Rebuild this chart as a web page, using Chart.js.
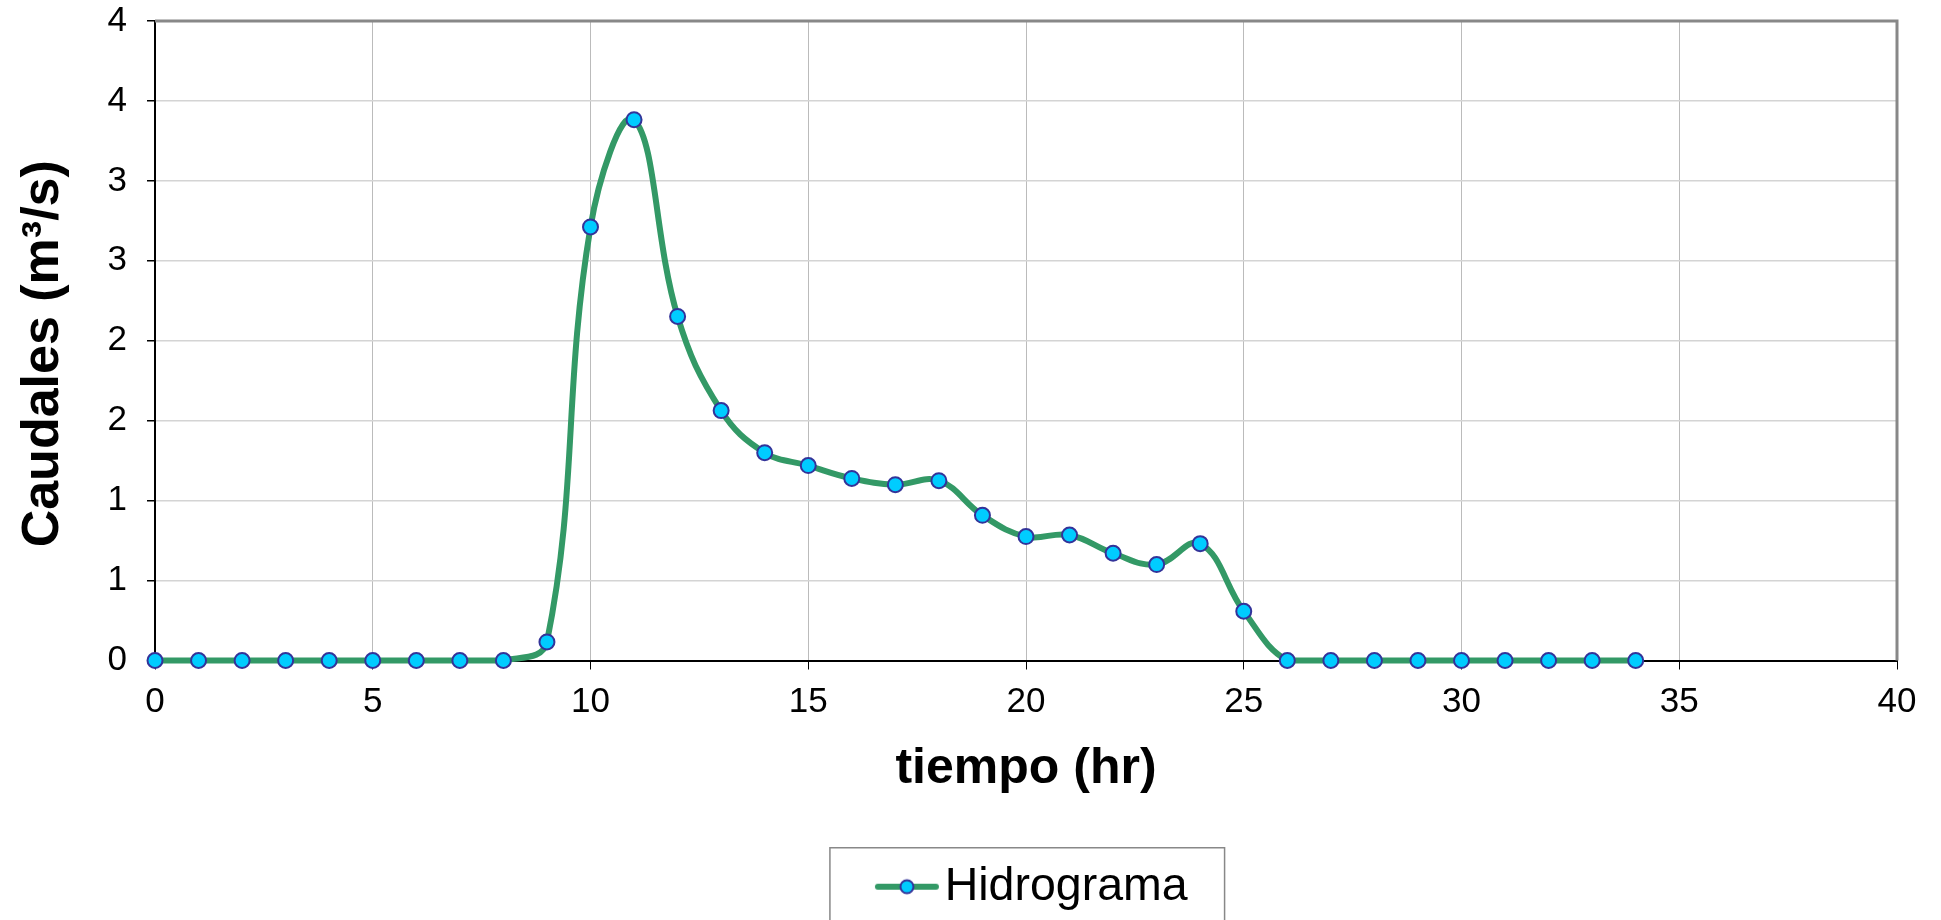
<!DOCTYPE html>
<html>
<head>
<meta charset="utf-8">
<script src="https://cdn.jsdelivr.net/npm/chart.js@4.4.1/dist/chart.umd.min.js"></script>
<style>
  html, body { margin: 0; padding: 0; background: #fff; }
  #wrap { width: 1941px; height: 920px; }
</style>
</head>
<body>
<div id="wrap"><canvas id="chart"></canvas></div>
<script>
// hidrograma: tiempo (hr) vs caudal (m3/s)
const hours = [0, 1, 2, 3, 4, 5, 6, 7, 8, 9, 10, 11, 12, 13, 14, 15, 16, 17,
    18, 19, 20, 21, 22, 23, 24, 25, 26, 27, 28, 29, 30, 31, 32, 33, 34];
const flows = [0, 0, 0, 0, 0, 0, 0, 0, 0, 0.116, 2.712, 3.383, 2.152, 1.563,
    1.30, 1.219, 1.139, 1.10, 1.125, 0.908, 0.775, 0.785, 0.671, 0.60, 0.731,
    0.308, 0, 0, 0, 0, 0, 0, 0, 0, 0];
const xTickLabels = ['0', '5', '10', '15', '20', '25', '30', '35', '40'];
const yTickLabels = ['0', '1', '1', '2', '2', '3', '3', '4', '4'];

const FONT = "'Liberation Sans', Arial, sans-serif";
const LEGEND_SIZE = 46.5;
const LEGEND_BOX = 57;     // pointStyleWidth, pushes the item so it sits like the original
const MARK_W = 98, MARK_CX = 63;

// legend symbol: line with marker, drawn off-centre inside the image
const legendMark = document.createElement('canvas');
legendMark.width = MARK_W;
legendMark.height = 20;
const g = legendMark.getContext('2d');
g.strokeStyle = '#339966';
g.lineWidth = 6;
g.lineCap = 'round';
g.beginPath(); g.moveTo(MARK_CX - 29, 10); g.lineTo(MARK_CX + 29, 10); g.stroke();
g.beginPath(); g.arc(MARK_CX, 10, 6.5, 0, 2 * Math.PI);
g.fillStyle = '#00ccff'; g.fill();
g.lineWidth = 2; g.strokeStyle = '#333399'; g.stroke();

const framePlugin = {
    id: 'frame',
    beforeDatasetsDraw(chart) {
        const {ctx, chartArea: a} = chart;
        ctx.save();
        ctx.strokeStyle = '#888888';
        ctx.lineWidth = 3;
        ctx.beginPath();
        ctx.moveTo(a.left, a.top);
        ctx.lineTo(a.right, a.top);
        ctx.lineTo(a.right, a.bottom);
        ctx.stroke();
        ctx.restore();
    },
    afterDraw(chart) {
        const hb = chart.legend.legendHitBoxes[0];
        if (!hb) return;
        const ctx = chart.ctx;
        const cy = hb.top + hb.height / 2;
        const markLeft = hb.left + LEGEND_BOX / 2 - MARK_W / 2 + MARK_CX - 32;
        const left = markLeft - 45;
        const right = hb.left + hb.width + 37;
        ctx.save();
        ctx.strokeStyle = '#888888';
        ctx.lineWidth = 1.5;
        ctx.strokeRect(left, cy - 39, right - left, 100);
        ctx.restore();
    }
};

const ctx = document.querySelector('#chart').getContext('2d');
const chart = new Chart(ctx, {
    type: 'line',
    data: {
        datasets: [{
            label: 'Hidrograma',
            data: hours.map((h, i) => ({x: h, y: flows[i]})),
            borderColor: '#339966',
            borderWidth: 6,
            tension: 0.4,
            pointRadius: 7.5,
            pointBorderWidth: 2,
            pointBackgroundColor: '#00ccff',
            pointBorderColor: '#333399',
            clip: false
        }]
    },
    options: {
        responsive: true,
        maintainAspectRatio: false,
        animation: false,
        layout: {
            padding: {top: 0, right: 44, left: 0, bottom: 0}
        },
        plugins: {
            tooltip: {enabled: false},
            legend: {
                position: 'bottom',
                fullSize: false,
                labels: {
                    usePointStyle: true,
                    pointStyleWidth: LEGEND_BOX,
                    padding: 16,
                    color: '#000',
                    font: {family: FONT, size: LEGEND_SIZE},
                    generateLabels: c => Chart.defaults.plugins.legend.labels.generateLabels(c)
                        .map(l => Object.assign(l, {pointStyle: legendMark}))
                }
            }
        },
        scales: {
            x: {
                type: 'linear',
                min: 0,
                max: 40,
                afterFit: s => { s.height = 187; },
                ticks: {
                    stepSize: 5,
                    padding: 12,
                    color: '#000',
                    font: {family: FONT, size: 35},
                    callback: (v, i) => xTickLabels[i]
                },
                grid: {color: '#bbbbbb', lineWidth: 1, tickLength: 9, tickColor: '#000'},
                border: {color: '#000', width: 2},
                title: {
                    display: true,
                    text: 'tiempo (hr)',
                    color: '#000',
                    font: {family: FONT, size: 50, weight: 'bold'},
                    padding: {top: 0, bottom: 48}
                }
            },
            y: {
                min: 0,
                max: 4,
                afterFit: s => {
                    s.width = 155;
                    s.paddingTop = 21;
                    s.paddingBottom = 0;
                },
                ticks: {
                    stepSize: 0.5,
                    padding: 20,
                    color: '#000',
                    font: {family: FONT, size: 35},
                    callback: (v, i) => yTickLabels[i]
                },
                grid: {color: '#d4d4d4', lineWidth: 1.5, tickLength: 8, tickColor: '#000'},
                border: {color: '#000', width: 2},
                title: {
                    display: true,
                    text: 'Caudales (m³/s)\u2002',
                    color: '#000',
                    font: {family: FONT, size: 52, weight: 'bold'},
                    padding: {top: 12, bottom: 0}
                }
            }
        }
    },
    plugins: [framePlugin]
});
</script>
</body>
</html>
